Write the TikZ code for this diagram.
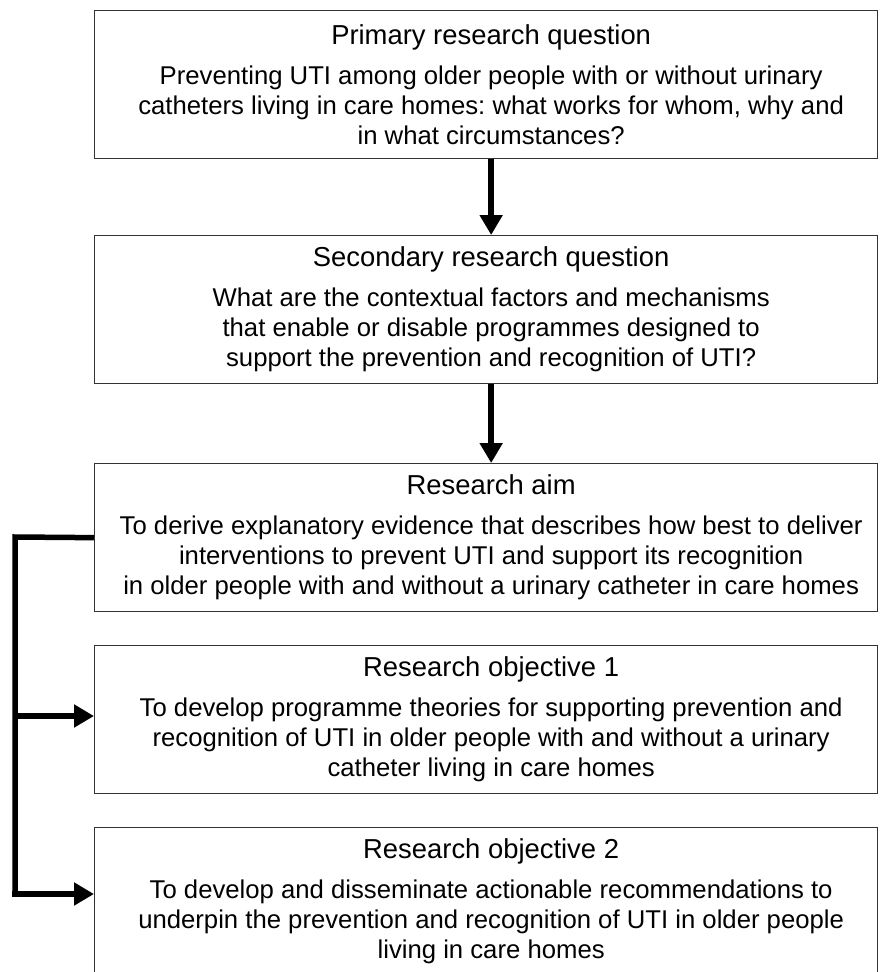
\documentclass[tikz,border=0pt]{standalone}
\usepackage{fontspec}
\setmainfont{Liberation Sans}
\usetikzlibrary{arrows.meta}
\frenchspacing
\begin{document}
\begin{tikzpicture}[x=1pt,y=-1pt,
  box/.style={draw=black!80, line width=1.3pt, minimum width=783pt, minimum height=148pt, anchor=north west, inner sep=0pt},
  txt/.style={inner sep=0pt},
  flow/.style={line width=5.5pt, -{Triangle[length=20pt,width=22pt]}},
  trunk/.style={line width=5.5pt, line join=miter}]
\useasboundingbox (0,0) rectangle (881,972);
\clip (0,0) rectangle (881,972);
\fill[white] (0,0) rectangle (881,972);
\newcommand{\ttlfont}{\fontsize{27.4}{30}\selectfont}
\newcommand{\bodyfont}{\fontsize{25.7}{30}\selectfont}
\newcommand{\boxtext}[2]{\parbox{780pt}{\centering\frenchspacing\ttlfont #1\par\vspace{10pt}\bodyfont #2\par}}

\node[box] (b1) at (94,10) {};
\node[box] (b2) at (94,235) {};
\node[box] (b3) at (94,463) {};
\node[box] (b4) at (94,645) {};
\node[box] (b5) at (94,827) {};

\node[txt] (t1) at ([xshift=5pt]b1.center) {\boxtext{Primary research question}{Preventing UTI among older people with or without urinary\\ catheters living in care homes: what works for whom, why and\\ in what circumstances?}};
\node[txt] (t2) at ([xshift=5pt]b2.center) {\boxtext{Secondary research question}{What are the contextual factors and mechanisms\\ that enable or disable programmes designed to\\ support the prevention and recognition of UTI?}};
\node[txt] (t3) at ([xshift=5pt]b3.center) {\boxtext{Research aim}{To derive explanatory evidence that describes how best to deliver\\ interventions to prevent UTI and support its recognition\\ in older people with and without a urinary catheter in care homes}};
\node[txt] (t4) at ([xshift=5pt]b4.center) {\boxtext{Research objective 1}{To develop programme theories for supporting prevention and\\ recognition of UTI in older people with and without a urinary\\ catheter living in care homes}};
\node[txt] (t5) at ([xshift=5pt]b5.center) {\boxtext{Research objective 2}{To develop and disseminate actionable recommendations to\\ underpin the prevention and recognition of UTI in older people\\ living in care homes}};

\draw[flow] ([xshift=5pt]b1.south) -- ([xshift=5pt]b2.north);
\draw[flow] ([xshift=5pt]b2.south) -- ([xshift=5pt]b3.north);

\coordinate (c1) at (15,537);
\coordinate (c2) at (15,716);
\coordinate (c3) at (15,894);
\draw[trunk] (b3.west) -- (c1) -- (c3);
\draw[flow] ([xshift=-2.75pt]c3) -- (c3 -| b5.west);
\draw[flow] (c2) -- (c2 -| b4.west);
\end{tikzpicture}
\end{document}
